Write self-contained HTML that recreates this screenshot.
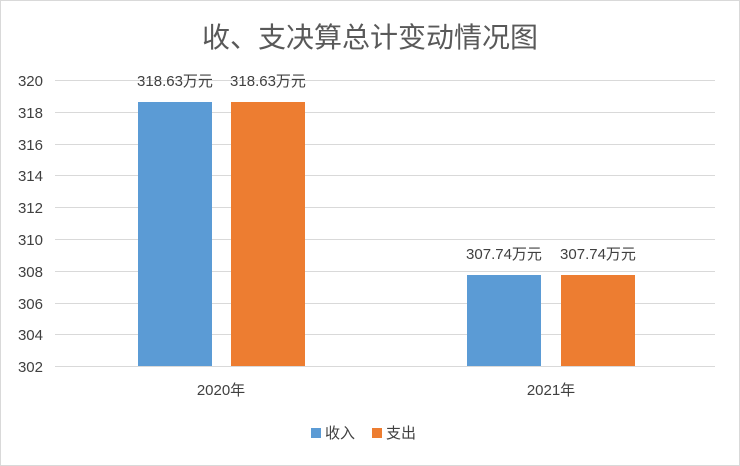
<!DOCTYPE html>
<html><head><meta charset="utf-8"><style>
html,body{margin:0;padding:0;background:#fff;}
svg{display:block;}
text{font-family:"Liberation Sans","Noto Sans CJK SC",sans-serif;fill:#404040;}
</style></head><body>
<svg width="740" height="466" viewBox="0 0 740 466" xmlns="http://www.w3.org/2000/svg">
<rect x="0.5" y="0.5" width="739" height="465" fill="#fff" stroke="#d9d9d9"/>
<text x="370" y="47" font-size="28" text-anchor="middle" fill="#595959" style="fill:#595959">收、支决算总计变动情况图</text>
<g stroke="#d9d9d9" stroke-width="1">
<line x1="55" x2="715" y1="80.5" y2="80.5"/>
<line x1="55" x2="715" y1="112.5" y2="112.5"/>
<line x1="55" x2="715" y1="144.5" y2="144.5"/>
<line x1="55" x2="715" y1="175.5" y2="175.5"/>
<line x1="55" x2="715" y1="207.5" y2="207.5"/>
<line x1="55" x2="715" y1="239.5" y2="239.5"/>
<line x1="55" x2="715" y1="271.5" y2="271.5"/>
<line x1="55" x2="715" y1="303.5" y2="303.5"/>
<line x1="55" x2="715" y1="334.5" y2="334.5"/>
<line x1="55" x2="715" y1="366.5" y2="366.5"/>
</g>
<g font-size="15" text-anchor="end">
<text x="43" y="86">320</text><text x="43" y="118">318</text><text x="43" y="150">316</text>
<text x="43" y="181">314</text><text x="43" y="213">312</text><text x="43" y="245">310</text>
<text x="43" y="277">308</text><text x="43" y="309">306</text><text x="43" y="340">304</text>
<text x="43" y="372">302</text>
</g>
<rect x="138" y="102" width="74" height="264" fill="#5b9bd5"/>
<rect x="231" y="102" width="74" height="264" fill="#ed7d31"/>
<rect x="467" y="275" width="74" height="91" fill="#5b9bd5"/>
<rect x="561" y="275" width="74" height="91" fill="#ed7d31"/>
<g font-size="15" text-anchor="middle">
<text x="175" y="86">318.63万元</text><text x="268" y="86">318.63万元</text>
<text x="504" y="259">307.74万元</text><text x="598" y="259">307.74万元</text>
<text x="221" y="395">2020年</text><text x="551" y="395">2021年</text>
</g>
<rect x="311" y="428" width="10" height="10" fill="#5b9bd5"/>
<text x="325" y="438" font-size="15">收入</text>
<rect x="372" y="428" width="10" height="10" fill="#ed7d31"/>
<text x="386" y="438" font-size="15">支出</text>
</svg>
</body></html>
